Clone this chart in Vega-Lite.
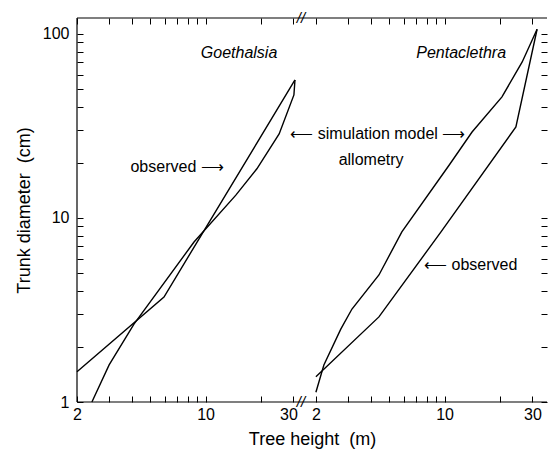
{
  "$schema": "https://vega.github.io/schema/vega-lite/v6.json",
  "background": "white",
  "padding": {"left": 15, "top": 11, "right": 3, "bottom": 5},
  "bounds": "flush",
  "spacing": 0,
  "config": {
    "font": "Liberation Sans",
    "view": {"stroke": null},
    "axis": {
      "grid": false,
      "domainColor": "black",
      "tickColor": "black",
      "labelColor": "black",
      "titleColor": "black",
      "labelFontSize": 16,
      "titleFontSize": 18,
      "titleFontWeight": "normal",
      "tickWidth": 1,
      "tickSize": 6,
      "labelFlush": false,
      "labelOverlap": false,
      "labelBound": false
    }
  },
  "datasets": {
    "frame": [{"edge": "frame"}],
    "goeth": [
      {"series": "observed", "order": 1, "height": 2, "diameter": 1.46},
      {"series": "observed", "order": 2, "height": 5.94, "diameter": 3.72},
      {"series": "observed", "order": 3, "height": 30.6, "diameter": 56.2},
      {"series": "simulation", "order": 1, "height": 2.41, "diameter": 1},
      {"series": "simulation", "order": 2, "height": 2.99, "diameter": 1.59},
      {"series": "simulation", "order": 3, "height": 4.08, "diameter": 2.65},
      {"series": "simulation", "order": 4, "height": 8.65, "diameter": 7.4},
      {"series": "simulation", "order": 5, "height": 14.6, "diameter": 13.3},
      {"series": "simulation", "order": 6, "height": 19.0, "diameter": 18.5},
      {"series": "simulation", "order": 7, "height": 25.1, "diameter": 28.6},
      {"series": "simulation", "order": 8, "height": 30.2, "diameter": 46.6},
      {"series": "simulation", "order": 9, "height": 30.6, "diameter": 56.2}
    ],
    "penta": [
      {"series": "simulation", "order": 1, "height": 2, "diameter": 1.13},
      {"series": "simulation", "order": 2, "height": 2.21, "diameter": 1.59},
      {"series": "simulation", "order": 3, "height": 2.73, "diameter": 2.49},
      {"series": "simulation", "order": 4, "height": 3.14, "diameter": 3.2},
      {"series": "simulation", "order": 5, "height": 4.4, "diameter": 4.9},
      {"series": "simulation", "order": 6, "height": 5.86, "diameter": 8.4},
      {"series": "simulation", "order": 7, "height": 10.6, "diameter": 19.4},
      {"series": "simulation", "order": 8, "height": 14.1, "diameter": 29.3},
      {"series": "simulation", "order": 9, "height": 20.5, "diameter": 45.5},
      {"series": "simulation", "order": 10, "height": 26.4, "diameter": 70.4},
      {"series": "simulation", "order": 11, "height": 31.8, "diameter": 106},
      {"series": "observed", "order": 1, "height": 2, "diameter": 1.37},
      {"series": "observed", "order": 2, "height": 4.4, "diameter": 2.9},
      {"series": "observed", "order": 3, "height": 9.56, "diameter": 8.4},
      {"series": "observed", "order": 4, "height": 24.4, "diameter": 31.2},
      {"series": "observed", "order": 5, "height": 31.8, "diameter": 106}
    ],
    "goethSpecies": [{"label": "Goethalsia", "height": 15.2, "diameter": 79}],
    "goethNotes": [{"label": "observed ⟶", "height": 7.0, "diameter": 18.9}],
    "breaks": [{"label": "//", "height": 33, "diameter": 1}, {"label": "//", "height": 33, "diameter": 122}],
    "pentaSpecies": [{"label": "Pentaclethra", "height": 12.3, "diameter": 79}],
    "pentaNotes": [
      {"label": "⟵ simulation model ⟶", "height": 4.34, "diameter": 28.6},
      {"label": "allometry", "height": 3.99, "diameter": 20.7}
    ],
    "pentaObs": [{"label": "⟵ observed", "height": 7.74, "diameter": 5.55}]
  },
  "hconcat": [
    {
      "width": 224,
      "height": 384,
      "layer": [
        {
          "data": {"name": "frame"},
          "mark": {"type": "rule", "color": "black", "strokeWidth": 1.2},
          "encoding": {
            "x": {"datum": 2, "type": "quantitative", "scale": {"type": "log", "domain": [2, 33]}, "axis": null},
            "x2": {"datum": 33},
            "y": {"datum": 1, "type": "quantitative", "scale": {"type": "log", "domain": [1, 122]}, "axis": null}
          }
        },
        {
          "data": {"name": "frame"},
          "mark": {"type": "rule", "color": "black", "strokeWidth": 1.2},
          "encoding": {
            "x": {"datum": 2, "type": "quantitative", "scale": {"type": "log", "domain": [2, 33]}, "axis": null},
            "x2": {"datum": 33},
            "y": {"datum": 122, "type": "quantitative", "scale": {"type": "log", "domain": [1, 122]}, "axis": null}
          }
        },
        {
          "data": {"name": "frame"},
          "mark": {"type": "rule", "color": "black", "strokeWidth": 1.2},
          "encoding": {
            "x": {"datum": 2, "type": "quantitative", "scale": {"type": "log", "domain": [2, 33]}, "axis": null},
            "y": {"datum": 1, "type": "quantitative", "scale": {"type": "log", "domain": [1, 122]}, "axis": null},
            "y2": {"datum": 122}
          }
        },
        {
          "data": {"name": "goeth"},
          "mark": {"type": "line", "color": "black", "strokeWidth": 1.4},
          "encoding": {
            "x": {
              "field": "height", "type": "quantitative",
              "scale": {"type": "log", "domain": [2, 33]},
              "axis": {
                "orient": "bottom",
                "values": [2, 3, 4, 5, 6, 7, 8, 9, 10, 20, 30],
                "labelExpr": "datum.value == 2 || datum.value == 10 || datum.value == 30 ? format(datum.value, 'd') : ''",
                "offset": -6,
                "domain": false,
                "labelPadding": 4,
                "labelOffset": {"condition": {"test": "datum.value == 30", "value": -5}, "value": 0},
                "title": "Tree height\u00a0 (m)",
                "titleX": 235,
                "titlePadding": 8
              }
            },
            "y": {
              "field": "diameter", "type": "quantitative",
              "scale": {"type": "log", "domain": [1, 122]},
              "axis": {
                "orient": "left",
                "values": [1, 2, 3, 4, 5, 6, 7, 8, 9, 10, 20, 30, 40, 50, 60, 70, 80, 90, 100],
                "labelExpr": "datum.value == 1 || datum.value == 10 || datum.value == 100 ? format(datum.value, 'd') : ''",
                "offset": -6,
                "domain": false,
                "labelPadding": 8,
                "title": "Trunk diameter\u00a0 (cm)",
                "titlePadding": 9
              }
            },
            "detail": {"field": "series"},
            "order": {"field": "order"}
          }
        },
        {
          "data": {"name": "goethSpecies"},
          "mark": {"type": "text", "fontSize": 16, "fontStyle": "italic", "color": "black"},
          "encoding": {
            "x": {
              "field": "height", "type": "quantitative",
              "scale": {"type": "log", "domain": [2, 33]},
              "axis": {
                "orient": "top",
                "values": [2, 3, 4, 5, 6, 7, 8, 9, 10, 20, 30],
                "labels": false, "domain": false, "offset": -6, "title": null
              }
            },
            "y": {"field": "diameter", "type": "quantitative", "scale": {"type": "log", "domain": [1, 122]}, "axis": null},
            "text": {"field": "label"}
          }
        },
        {
          "data": {"name": "goethNotes"},
          "mark": {"type": "text", "fontSize": 16, "color": "black"},
          "encoding": {
            "x": {"field": "height", "type": "quantitative", "scale": {"type": "log", "domain": [2, 33]}, "axis": null},
            "y": {"field": "diameter", "type": "quantitative", "scale": {"type": "log", "domain": [1, 122]}, "axis": null},
            "text": {"field": "label"}
          }
        },
        {
          "data": {"name": "breaks"},
          "mark": {"type": "text", "fontSize": 15, "fontStyle": "italic", "color": "black", "baseline": "middle"},
          "encoding": {
            "x": {"field": "height", "type": "quantitative", "scale": {"type": "log", "domain": [2, 33]}, "axis": null},
            "y": {"field": "diameter", "type": "quantitative", "scale": {"type": "log", "domain": [1, 122]}, "axis": null},
            "text": {"field": "label"}
          }
        }
      ],
      "resolve": {"axis": {"x": "independent", "y": "independent"}}
    },
    {
      "width": 246,
      "height": 384,
      "layer": [
        {
          "data": {"name": "frame"},
          "mark": {"type": "rule", "color": "black", "strokeWidth": 1.2},
          "encoding": {
            "x": {"datum": 1.66, "type": "quantitative", "scale": {"type": "log", "domain": [1.66, 36]}, "axis": null},
            "x2": {"datum": 36},
            "y": {"datum": 1, "type": "quantitative", "scale": {"type": "log", "domain": [1, 122]}, "axis": null}
          }
        },
        {
          "data": {"name": "frame"},
          "mark": {"type": "rule", "color": "black", "strokeWidth": 1.2},
          "encoding": {
            "x": {"datum": 1.66, "type": "quantitative", "scale": {"type": "log", "domain": [1.66, 36]}, "axis": null},
            "x2": {"datum": 36},
            "y": {"datum": 122, "type": "quantitative", "scale": {"type": "log", "domain": [1, 122]}, "axis": null}
          }
        },
        {
          "data": {"name": "penta"},
          "mark": {"type": "line", "color": "black", "strokeWidth": 1.4},
          "encoding": {
            "x": {
              "field": "height", "type": "quantitative",
              "scale": {"type": "log", "domain": [1.66, 36]},
              "axis": {
                "orient": "bottom",
                "values": [2, 3, 4, 5, 6, 7, 8, 9, 10, 20, 30],
                "labelExpr": "datum.value == 2 || datum.value == 10 || datum.value == 30 ? format(datum.value, 'd') : ''",
                "offset": -6,
                "domain": false,
                "labelPadding": 4,
                "title": null
              }
            },
            "y": {
              "field": "diameter", "type": "quantitative",
              "scale": {"type": "log", "domain": [1, 122]},
              "axis": {
                "orient": "right",
                "values": [1, 2, 3, 4, 5, 6, 7, 8, 9, 10, 20, 30, 40, 50, 60, 70, 80, 90, 100],
                "labels": false, "domain": false, "offset": -6, "title": null
              }
            },
            "detail": {"field": "series"},
            "order": {"field": "order"}
          }
        },
        {
          "data": {"name": "pentaSpecies"},
          "mark": {"type": "text", "fontSize": 16, "fontStyle": "italic", "color": "black"},
          "encoding": {
            "x": {
              "field": "height", "type": "quantitative",
              "scale": {"type": "log", "domain": [1.66, 36]},
              "axis": {
                "orient": "top",
                "values": [2, 3, 4, 5, 6, 7, 8, 9, 10, 20, 30],
                "labels": false, "domain": false, "offset": -6, "title": null
              }
            },
            "y": {"field": "diameter", "type": "quantitative", "scale": {"type": "log", "domain": [1, 122]}, "axis": null},
            "text": {"field": "label"}
          }
        },
        {
          "data": {"name": "pentaNotes"},
          "mark": {"type": "text", "fontSize": 16, "color": "black", "align": "center"},
          "encoding": {
            "x": {"field": "height", "type": "quantitative", "scale": {"type": "log", "domain": [1.66, 36]}, "axis": null},
            "y": {"field": "diameter", "type": "quantitative", "scale": {"type": "log", "domain": [1, 122]}, "axis": null},
            "text": {"field": "label"}
          }
        },
        {
          "data": {"name": "pentaObs"},
          "mark": {"type": "text", "fontSize": 16, "color": "black", "align": "left"},
          "encoding": {
            "x": {"field": "height", "type": "quantitative", "scale": {"type": "log", "domain": [1.66, 36]}, "axis": null},
            "y": {"field": "diameter", "type": "quantitative", "scale": {"type": "log", "domain": [1, 122]}, "axis": null},
            "text": {"field": "label"}
          }
        }
      ],
      "resolve": {"axis": {"x": "independent", "y": "independent"}}
    }
  ]
}
